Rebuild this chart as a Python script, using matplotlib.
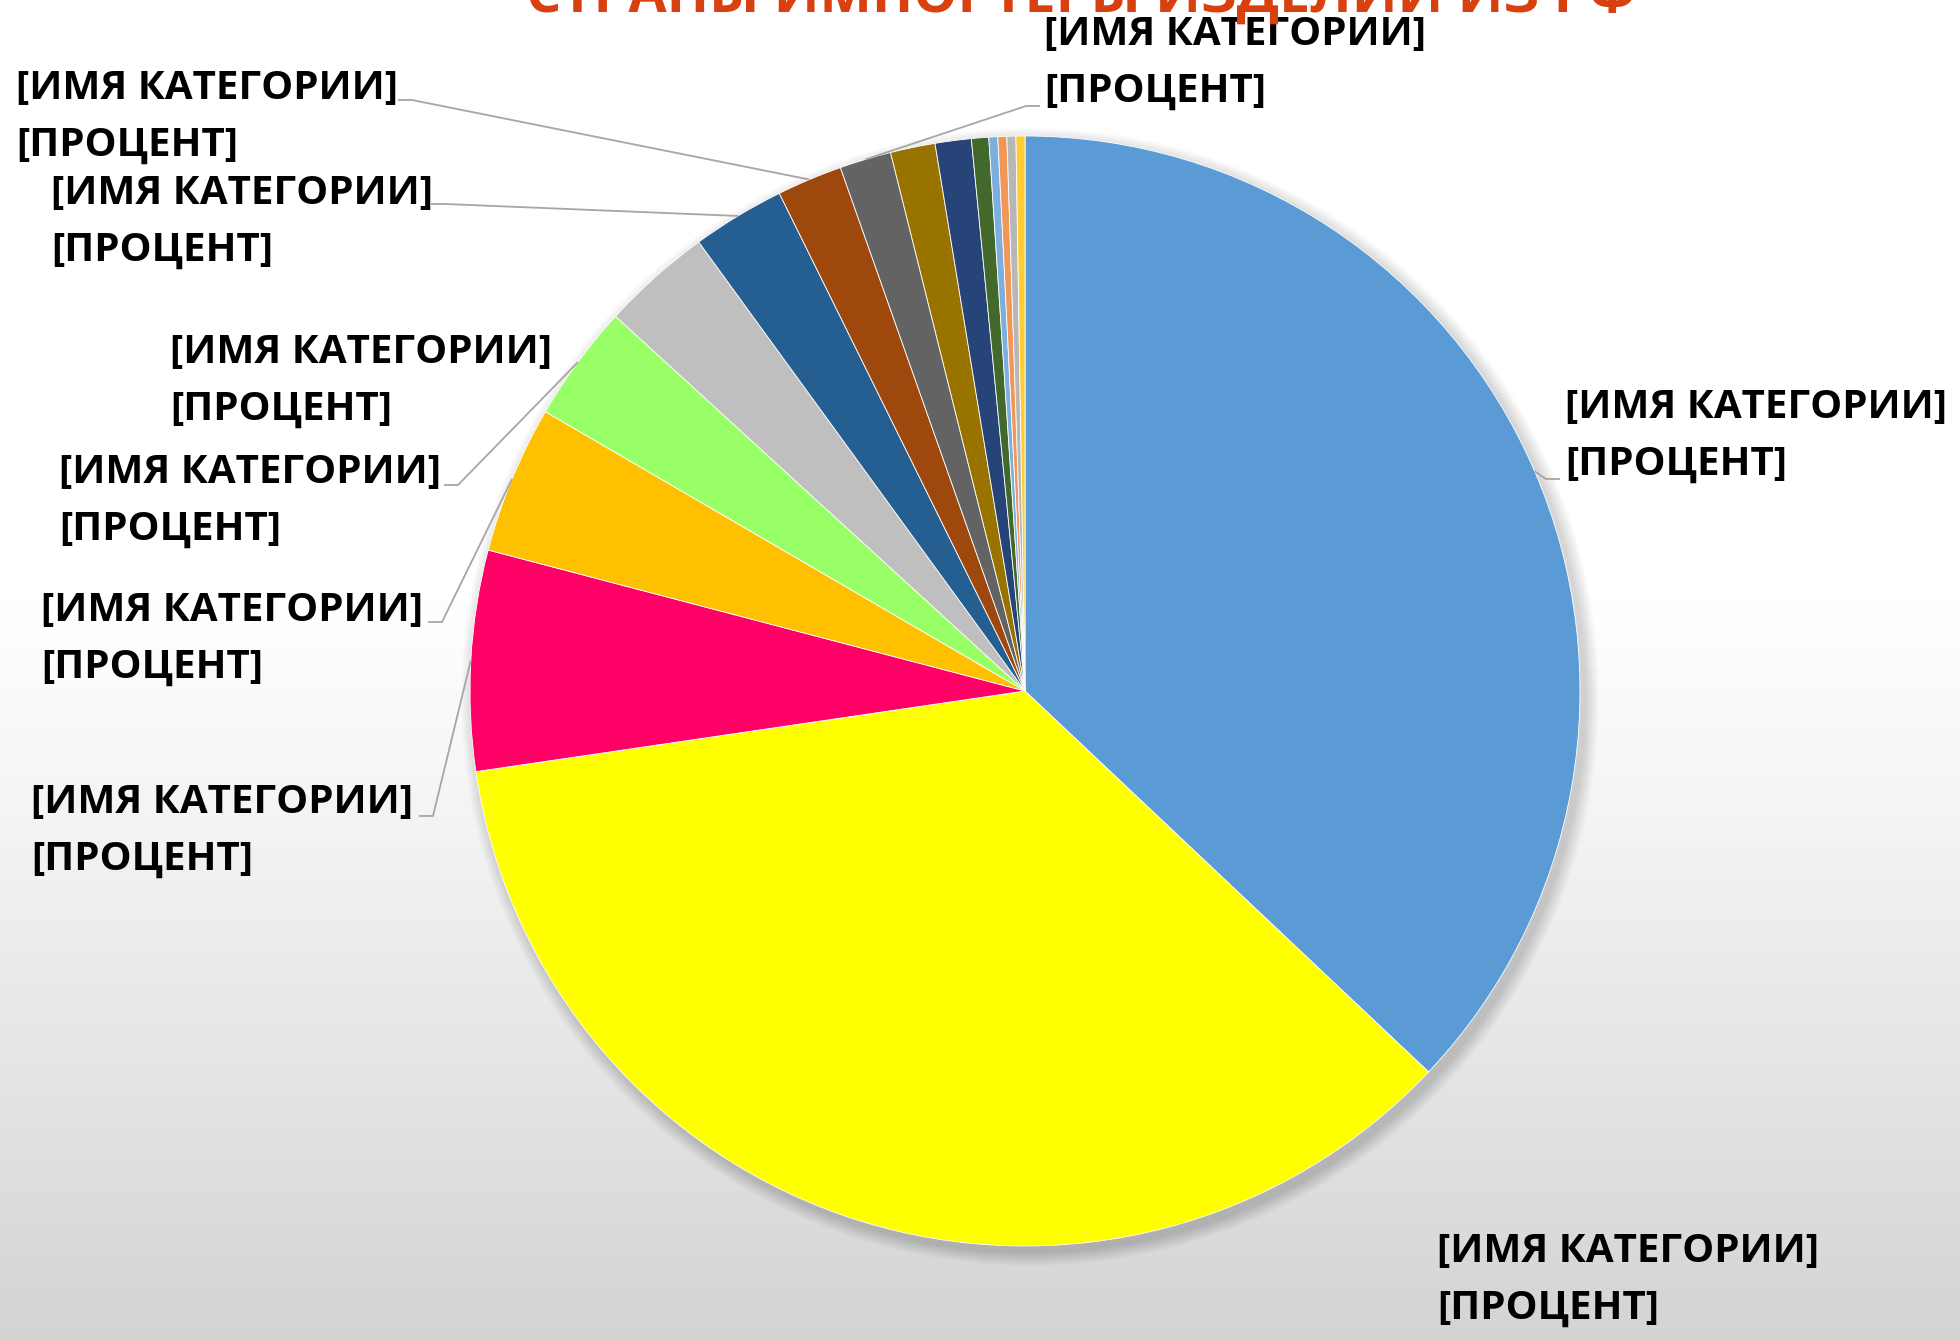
import numpy as np
import matplotlib
matplotlib.use("Agg")
import matplotlib.pyplot as plt
from matplotlib.patches import Circle

# Данные диаграммы (доли, %), по часовой стрелке от 12 часов
categories = [f"[ИМЯ КАТЕГОРИИ] {i + 1}" for i in range(16)]
shares = [37.0, 35.6, 6.4, 4.3, 3.4, 3.2, 2.7, 1.9, 1.5, 1.3, 1.05, 0.5,
          0.26, 0.26, 0.26, 0.26]
colors = ['#5B9BD5', '#FFFF00', '#FF0066', '#FFC000', '#99FF66', '#BFBFBF',
          '#255E91', '#9E480E', '#636363', '#997300', '#264478', '#43682B',
          '#7CAFDD', '#F1975A', '#B7B7B7', '#FFCD33']
label_text = "[ИМЯ КАТЕГОРИИ]\n[ПРОЦЕНТ]"
title = "СТРАНЫ ИМПОРТЕРЫ ИЗДЕЛИЙ ИЗ РФ"

W, H = 1960, 1340
cx, cy, R = 1025, 691, 555          # центр и радиус круга (пиксели от верха)

# Подписи: индекс сектора, x левого края, y центра блока,
# точка привязки выноски (или None), направление короткого штриха
labels = [
    (0, 1565, 436, (1560, 479), -1),
    (1, 1437, 1280, None, 0),
    (2, 31, 831, (419, 816), 1),
    (3, 41, 639, (428, 622), 1),
    (4, 59, 501, (444, 485), 1),
    (5, 170, 381, None, 0),
    (6, 51, 222, (431, 204), 1),
    (7, 16, 117, (398, 100), 1),
    (8, 1044, 63, (1040, 106), -1),
]

fig = plt.figure(figsize=(W / 100, H / 100), dpi=100)
ax = fig.add_axes([0, 0, 1, 1])

# фон с градиентом
t = np.linspace(0, 1, H)
shade = np.where(t < 0.45, 1.0, 1.0 - 0.17 * ((t - 0.45) / 0.55) ** 1.1)
bg = np.dstack([shade, shade, shade]).reshape(H, 1, 3)
ax.imshow(bg, extent=(0, W, 0, H), aspect='auto', zorder=0)

# мягкая тень под кругом
for k in range(14):
    ax.add_patch(Circle((cx + 5, H - cy - 6), R + 14 - k, color='black',
                        alpha=0.012, lw=0, zorder=1))

wedges, _ = ax.pie(shares, colors=colors, startangle=90, counterclock=False,
                   center=(cx, H - cy), radius=R,
                   wedgeprops=dict(edgecolor='white', linewidth=0.6))
for w in wedges:
    w.set_zorder(2)

ax.set_xlim(0, W)
ax.set_ylim(0, H)
ax.set_aspect('equal')
ax.axis('off')

for idx, x, yc, anchor, side in labels:
    ax.text(x, H - yc, label_text, ha='left', va='center', fontweight='bold',
            family='Open Sans', fontsize=29, color='black',
            linespacing=1.6, zorder=5)
    if anchor is not None:
        w = wedges[idx]
        mid = np.deg2rad((w.theta1 + w.theta2) / 2)
        px = cx + R * np.cos(mid)
        py = (H - cy) + R * np.sin(mid)
        ax_, ay_ = anchor
        ex = ax_ + side * 14
        ax.plot([ax_, ex, px], [H - ay_, H - ay_, py], color='#A6A6A6',
                lw=1.3, zorder=4, solid_capstyle='butt')

fig.text(1081 / W, 1 - 12 / H, title, ha='center', va='baseline',
         fontsize=40, fontweight='bold', color='#D9400F', family='Open Sans')

fig.savefig("out.png", dpi=100)
